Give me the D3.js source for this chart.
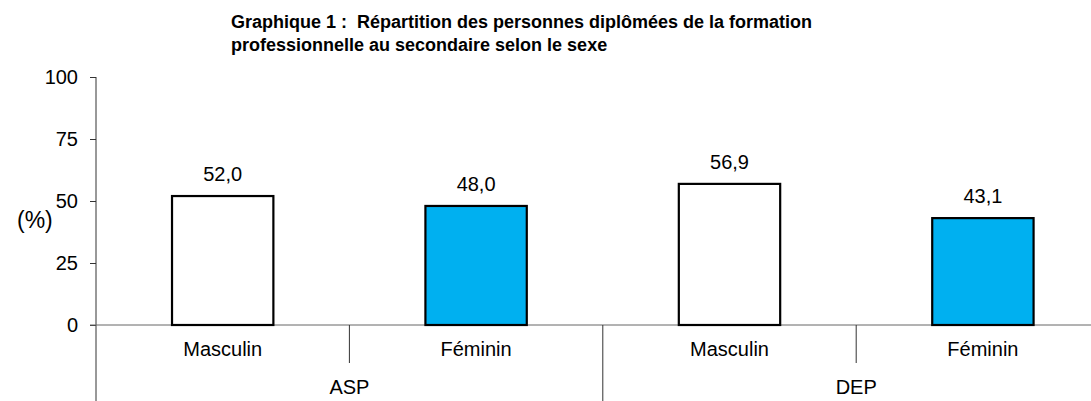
<!DOCTYPE html>
<html><head><meta charset="utf-8">
<script src="https://cdn.jsdelivr.net/npm/d3@7"></script>
<style>body{margin:0;background:#fff}svg{display:block;font-family:"Liberation Sans",Arial,sans-serif}</style>
</head><body>
<svg id="c" width="1091" height="401"></svg>
<script>
const titleLines = ["Graphique 1 :  Répartition des personnes diplômées de la formation", "professionnelle au secondaire selon le sexe"];
const groups = ["ASP", "DEP"];
const sexes = ["Masculin", "Féminin"];
const values = [52.0, 48.0, 56.9, 43.1];
const colors = ["#ffffff", "#00b0f0"];
const yTicks = [0, 25, 50, 75, 100];

const svg = d3.select("#c");
const cats = [];
groups.forEach((g, gi) => sexes.forEach((s, si) => cats.push({g, s, si, key: g + "|" + s, v: values[gi * 2 + si]})));

const x0 = 96, step = 253.4;
const x = d3.scaleBand().domain(cats.map(d => d.key)).range([x0, x0 + step * cats.length]).paddingInner(0.6).paddingOuter(0.3);
const y = d3.scaleLinear().domain([0, 100]).range([325, 77]);

// title
svg.append("g").selectAll("text").data(titleLines).join("text")
  .attr("x", 231).attr("y", (d, i) => 28 + i * 23)
  .style("white-space", "pre").attr("xml:space", "preserve")
  .attr("font-weight", "bold").attr("font-size", 18).text(d => d);

// y axis
const ya = svg.append("g").attr("transform", `translate(${x0},0)`)
  .call(d3.axisLeft(y).tickValues(yTicks).tickSize(6).tickSizeOuter(0).tickPadding(12));
ya.select(".domain").remove();
ya.selectAll(".tick line").attr("stroke", "#333");
ya.selectAll(".tick text").attr("font-size", 20).attr("font-family", "Liberation Sans, Arial, sans-serif").attr("fill", "#000");
svg.append("line").attr("x1", x0).attr("x2", x0).attr("y1", y(100)).attr("y2", 401).attr("stroke", "#333");

svg.append("text").attr("x", 17).attr("y", 228).attr("font-size", 23).text("(%)");

// x axis line
svg.append("line").attr("x1", x0 - 6).attr("x2", 1091).attr("y1", y(0)).attr("y2", y(0)).attr("stroke", "#666");

// bars
svg.append("g").selectAll("rect").data(cats).join("rect")
  .attr("x", d => x(d.key)).attr("width", x.bandwidth())
  .attr("y", d => y(d.v)).attr("height", d => y(0) - y(d.v))
  .attr("fill", d => colors[d.si]).attr("stroke", "#000").attr("stroke-width", 2.2);

svg.append("g").selectAll("text").data(cats).join("text")
  .attr("x", d => x(d.key) + x.bandwidth() / 2).attr("y", d => y(d.v) - 15)
  .attr("text-anchor", "middle").attr("font-size", 20).text(d => d.v.toFixed(1).replace(".", ","));

// category separators
const bandStart = k => x(k) - x.step() * 0.3;
cats.forEach((d, i) => {
  const left = bandStart(d.key);
  if (i > 0) {
    const long = d.si === 0;
    svg.append("line").attr("x1", left).attr("x2", left).attr("y1", y(0)).attr("y2", long ? 401 : 363).attr("stroke", "#333");
  }
});
svg.append("g").selectAll("text").data(cats).join("text")
  .attr("x", d => x(d.key) + x.bandwidth() / 2).attr("y", 356)
  .attr("text-anchor", "middle").attr("font-size", 20).text(d => d.s);

svg.append("g").selectAll("text").data(groups).join("text")
  .attr("x", (g, gi) => x0 + step * (gi * 2 + 1)).attr("y", 394)
  .attr("text-anchor", "middle").attr("font-size", 20).text(d => d);
</script>
</body></html>
